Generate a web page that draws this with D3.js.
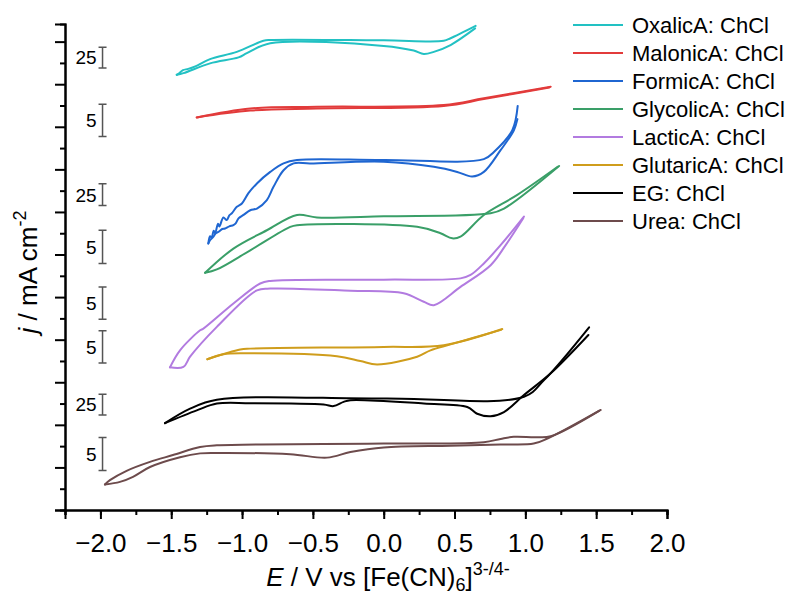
<!DOCTYPE html>
<html lang="en">
<head>
  <meta charset="UTF-8">
  <title>CV stack</title>
  <style>
    *{ margin:0; padding:0; }
    body{ background:#fff; }
    text{ font-family: "Liberation Sans", Arial, sans-serif; fill:#000; }
  </style>
  <script src="https://cdn.jsdelivr.net/npm/d3@7"></script>
</head>
<body>
  <svg id="mainsvg"></svg>
  <script>
    const width = 792, height = 597;

    // series names, colours (legend order, top to bottom)
    const names = ['OxalicA: ChCl','MalonicA: ChCl','FormicA: ChCl','GlycolicA: ChCl',
                   'LacticA: ChCl','GlutaricA: ChCl','EG: ChCl','Urea: ChCl'];
    const colors = ['#22c1c3','#e23b3b','#1f66d1','#3a9f68','#b27be0','#cf9d1c','#000000','#6d4b4c'];

    // curves: [E (V), stacked offset j]  -- CV loops,
    // forward scan up to the most positive E, then the return scan
    const oxalic = [[-1.461,10.22],[-1.440,10.27],[-1.417,10.33],[-1.380,10.36],[-1.330,10.42],[-1.226,10.59],[-1.037,10.76],[-0.849,11.02],[-0.801,11.04],
      [0.0,11.03],[0.424,11.02],[0.472,11.08],[0.649,11.37],[0.645,11.31],[0.472,10.92],[0.354,10.76],
      [0.283,10.71],[0.212,10.79],[0.0,10.90],[-0.801,10.96],[-0.966,10.73],[-1.025,10.63],[-1.226,10.49],
      [-1.414,10.26],[-1.461,10.22]];
    const malonic = [[-1.320,9.22],[-0.942,9.43],[-0.471,9.47],[0.424,9.51],[0.707,9.67],[1.179,9.94],
      [1.170,9.925],[0.707,9.65],[0.424,9.49],[-0.471,9.43],[-0.942,9.38],[-1.320,9.22]];
    const formic = [[-1.238,6.26],[-1.226,6.43],[-1.215,6.40],[-1.200,6.56],[-1.190,6.50],[-1.170,6.72],
      [-1.160,6.66],[-1.132,6.87],[-1.108,6.81],[-1.090,6.92],[-1.072,6.97],[-1.037,7.12],[-1.001,7.20],
      [-0.955,7.44],[-0.895,7.67],[-0.801,7.94],[-0.707,8.14],[-0.612,8.22],[0.0,8.22],[0.707,8.24],
      [0.778,8.41],[0.908,8.92],[0.946,9.49],[0.944,9.18],[0.919,8.92],[0.825,8.45],[0.707,7.94],[0.625,7.83],
      [0.519,7.94],[0.354,8.06],[0.0,8.18],[-0.518,8.14],[-0.636,8.14],[-0.707,7.98],[-0.778,7.59],
      [-0.825,7.28],[-0.895,7.08],[-0.942,7.04],[-0.990,6.93],[-1.025,6.85],[-1.045,6.73],[-1.061,6.69],
      [-1.090,6.66],[-1.120,6.61],[-1.140,6.60],[-1.167,6.53],[-1.185,6.50],[-1.202,6.42],[-1.226,6.34],[-1.238,6.26]];
    const glycolic = [[-1.261,5.57],[-1.061,6.14],[-0.825,6.57],[-0.612,6.93],[-0.471,6.87],[0.0,6.90],
      [0.755,6.97],[0.849,7.08],[1.238,8.08],[1.228,8.06],[0.943,7.40],[0.707,6.93],[0.542,6.42],[0.484,6.38],
      [0.401,6.50],[0.236,6.65],[-0.612,6.69],[-0.660,6.65],[-0.942,6.10],[-1.178,5.65],[-1.261,5.57]];
    const lactic = [[-1.509,3.35],[-1.438,3.75],[-1.296,4.22],[-1.273,4.26],[-1.061,4.85],[-0.872,5.32],
      [-0.801,5.38],[0.0,5.41],[0.542,5.44],[0.613,5.52],[0.707,5.79],[0.825,6.22],[0.990,6.89],
      [0.985,6.85],[0.861,6.22],[0.755,5.75],[0.542,5.24],[0.354,4.81],[0.283,4.89],[0.141,5.09],
      [-0.235,5.15],[-0.801,5.20],[-0.895,5.16],[-1.178,4.30],[-1.367,3.60],[-1.414,3.36],[-1.509,3.35]];
    const glutaric = [[-1.245,3.54],[-1.013,3.77],[-0.942,3.79],[0.0,3.83],[0.424,3.87],[0.837,4.25],
      [0.828,4.23],[0.472,3.89],[0.330,3.75],[0.236,3.60],[-0.047,3.42],[-0.165,3.50],[-0.330,3.61],[-0.942,3.68],
      [-1.132,3.66],[-1.245,3.54]];
    const eg = [[-1.544,2.04],[-1.367,2.38],[-1.178,2.59],[0.0,2.62],[0.990,2.66],[1.132,3.05],[1.450,4.29],
      [1.445,4.11],[1.179,3.21],[0.990,2.70],[0.849,2.30],[0.755,2.20],[0.660,2.26],[0.590,2.42],
      [0.283,2.50],[-0.235,2.58],[-0.283,2.54],[-0.354,2.44],[-0.424,2.48],[-0.942,2.51],[-1.178,2.50],
      [-1.320,2.34],[-1.544,2.04]];
    const urea = [[-1.968,0.60],[-1.933,0.70],[-1.815,0.92],[-1.650,1.13],[-1.488,1.29],[-1.296,1.48],
      [-1.178,1.52],[0.0,1.56],[0.707,1.59],[0.825,1.67],[0.919,1.72],[1.073,1.71],[1.179,1.73],[1.532,2.35],
      [1.520,2.33],[1.156,1.68],[1.059,1.56],[0.825,1.54],[0.472,1.51],[0.0,1.47],[-0.235,1.36],[-0.400,1.23],
      [-0.660,1.31],[-1.178,1.34],[-1.296,1.33],[-1.438,1.24],[-1.650,1.01],[-1.770,0.78],[-1.862,0.66],[-1.968,0.60]];
    const curves = [oxalic, malonic, formic, glycolic, lactic, glutaric, eg, urea];

    // scale bars (mA cm-2) with extents in the stacked offset units
    const barLabels = ['25','5','25','5','5','5','25','5'];
    const barTop    = [10.87, 9.53, 7.66, 6.57, 5.24, 4.21, 2.72, 1.70];
    const barBottom = [10.38, 8.77, 7.15, 5.79, 4.48, 3.45, 2.23, 0.93];
    const barE = -1.985;

    const xTicks = [-2.0,-1.5,-1.0,-0.5,0.0,0.5,1.0,1.5,2.0];

    const svg = d3.select('#mainsvg').attr('width',width).attr('height',height)
    const margin = {left:65, top:24, right:125, bottom:87}

    const x = d3.scaleLinear().domain([-2.25, 2.0]).range([margin.left, width - margin.right])
    const y = d3.scaleLinear().domain([0, 11.414]).range([height - margin.bottom, margin.top])

    // split every loop at its vertex so the spline does not overshoot there
    function branches(c) {
      const k = d3.maxIndex(c, d => d[0])
      return [c.slice(0, k + 1), c.slice(k + 1)]
    }

    const line = d3.line().x(d => x(d[0])).y(d => y(d[1])).curve(d3.curveCatmullRom.alpha(0.5))
    const gc = svg.append('g')
    curves.forEach((c, i) => {
      gc.selectAll(null).data(branches(c)).join('path')
        .attr('fill','none')
        .attr('stroke',colors[i])
        .attr('stroke-width',2)
        .attr('stroke-linejoin','round')
        .attr('stroke-linecap','round')
        .attr('d',line)
    })

    // x axis
    const gx = svg.append('g').attr('transform',`translate(0,${y(0)})`)
    gx.call(d3.axisBottom(x).tickValues(d3.range(-2.25,2.01,0.25)).tickSize(5).tickFormat(''))
    gx.append('g').call(d3.axisBottom(x).tickValues(xTicks).tickSize(9)
      .tickFormat(d => d3.format('.1f')(d).replace('-','\u2212')))
    gx.selectAll('.domain').attr('stroke','#000').attr('stroke-width',2)
    gx.selectAll('.tick line').attr('stroke','#000').attr('stroke-width',2)
    gx.selectAll('.tick text').attr('font-size',26).attr('dy',null).attr('y',42)
      .attr('font-family','"Liberation Sans", Arial, sans-serif').attr('fill','#000')

    // y axis (offset axis, no labels)
    const gy = svg.append('g').attr('transform',`translate(${x(-2.25)},0)`)
    gy.call(d3.axisLeft(y).tickValues(d3.range(0.5,11.4,1)).tickSize(5).tickFormat(''))
    gy.append('g').call(d3.axisLeft(y).tickValues(d3.range(0,11.4,1)).tickSize(10).tickFormat(''))
    gy.selectAll('.domain').attr('stroke','#000').attr('stroke-width',2)
    gy.selectAll('.tick line').attr('stroke','#000').attr('stroke-width',2)

    // scale bars
    const bars = svg.append('g')
    barLabels.forEach((lab,i) => {
      const bx = x(barE), t = y(barTop[i]), b = y(barBottom[i])
      bars.append('path')
        .attr('d',`M${bx-4},${t}H${bx+4}M${bx},${t}V${b}M${bx-4},${b}H${bx+4}`)
        .attr('stroke','#555').attr('stroke-width',1.5).attr('fill','none')
      bars.append('text').attr('x',bx-6).attr('y',(t+b)/2).attr('dy','0.36em')
        .attr('text-anchor','end').attr('font-size',19).text(lab)
    })

    // legend
    const lg = svg.append('g').attr('transform','translate(573,25)')
    names.forEach((n,i) => {
      lg.append('line').attr('x1',0).attr('x2',50).attr('y1',i*28).attr('y2',i*28)
        .attr('stroke',colors[i]).attr('stroke-width',2)
      lg.append('text').attr('x',59).attr('y',i*28).attr('dy','0.36em')
        .attr('font-size',22).text(n)
    })

    // axis titles
    const xt = svg.append('text').attr('x',388).attr('y',586).attr('text-anchor','middle').attr('font-size',26)
    xt.append('tspan').attr('font-style','italic').text('E')
    xt.append('tspan').text(' / V vs [Fe(CN)')
    xt.append('tspan').attr('font-size',18).attr('dy',5).text('6')
    xt.append('tspan').attr('dy',-5).text(']')
    xt.append('tspan').attr('font-size',18).attr('dy',-11).text('3-/4-')

    const yt = svg.append('text').attr('transform','translate(37,272) rotate(-90)')
      .attr('text-anchor','middle').attr('font-size',26)
    yt.append('tspan').attr('font-style','italic').text('j')
    yt.append('tspan').text(' / mA cm')
    yt.append('tspan').attr('font-size',18).attr('dy',-11).text('-2')
  </script>
</body>
</html>
